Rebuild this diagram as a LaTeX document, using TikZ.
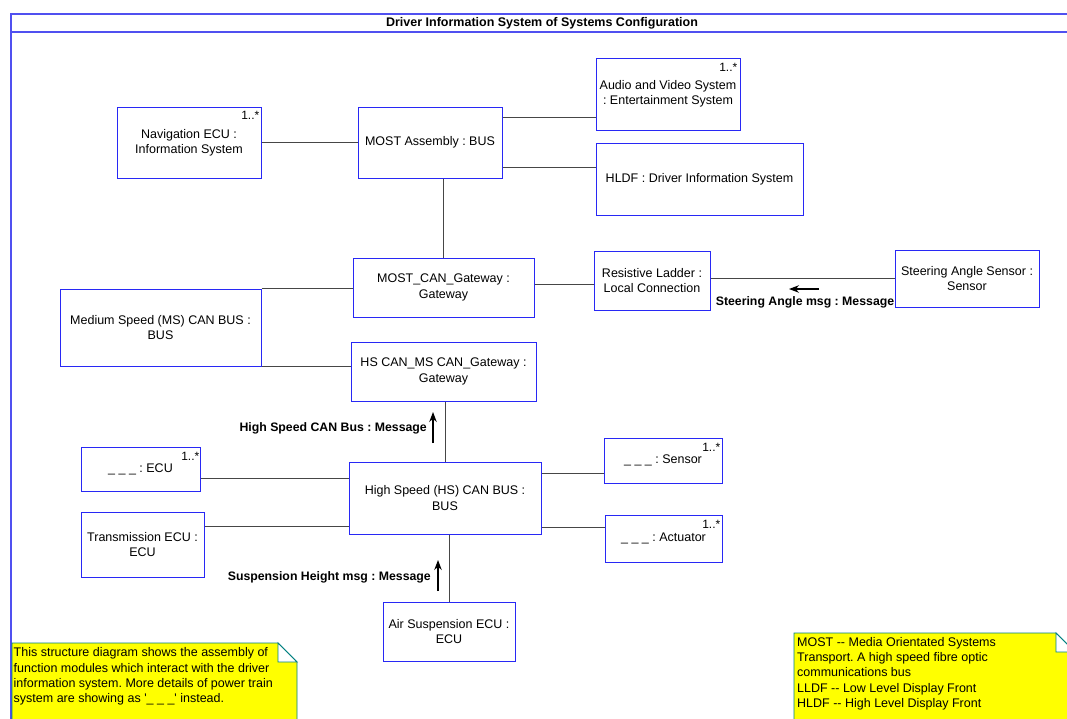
\documentclass[tikz,border=0pt]{standalone}
\usepackage{fontspec}
\setmainfont{Liberation Sans}
\usetikzlibrary{arrows.meta}
\definecolor{boxblue}{RGB}{40,40,245}
\definecolor{framebl}{RGB}{80,80,240}
\definecolor{wirecol}{RGB}{70,70,70}
\definecolor{notefill}{RGB}{255,255,0}
\definecolor{noteedge}{RGB}{0,128,128}
\frenchspacing

\begin{document}
\begin{tikzpicture}[x=1pt,y=-1pt,
  every node/.style={font=\fontsize{12.5}{15.3}\selectfont, inner sep=0pt},
  part/.style={draw=boxblue, line width=1pt, fill=white, align=center},
  wire/.style={draw=wirecol, line width=0.9pt},
  mult/.style={anchor=north east, font=\fontsize{12}{13}\selectfont},
  msg/.style={font=\fontsize{12.3}{15}\selectfont\bfseries},
  msgarrow/.style={-{Stealth[length=10pt,width=7.5pt]}, line width=1.2pt, black},
  notebody/.style={draw=noteedge, fill=notefill, line width=0.9pt},
  notefold/.style={draw=noteedge, fill=white, line width=0.9pt},
  notetext/.style={anchor=north west, align=left},
]
\useasboundingbox (0,0) rectangle (1067,718);
\clip (0,0) rectangle (1067,718);
\fill[white] (0,0) rectangle (1067,718);

% diagram frame with its title bar
\draw[framebl, line width=1.4pt] (1080,14) -- (11,14) -- (11,730);
\draw[framebl, line width=1.4pt] (11,32) -- (1080,32);
\node[font=\fontsize{12.5}{15}\selectfont\bfseries] (title) at (542,23)
  {Driver Information System of Systems Configuration};

% parts
\node[part, minimum width=144pt, minimum height=71pt] (nav) at (189,142.5) {Navigation ECU :\\Information System};
\node[part, minimum width=144pt, minimum height=71pt] (most) at (430,142.5) {MOST Assembly : BUS};
\node[part, minimum width=144pt, minimum height=72pt] (audio) at (668,94) {Audio and Video System\\: Entertainment System};
\node[part, minimum width=207pt, minimum height=72pt] (hldf) at (699.5,179) {HLDF : Driver Information System};
\node[part, minimum width=181pt, minimum height=59pt] (mcg) at (443.5,287.5) {MOST\_CAN\_Gateway :\\Gateway};
\node[part, minimum width=201pt, minimum height=77pt] (ms) at (160.5,327.5) {Medium Speed (MS) CAN BUS :\\BUS};
\node[part, minimum width=185pt, minimum height=59pt] (hsg) at (443.5,371.5) {HS CAN\_MS CAN\_Gateway :\\Gateway};
\node[part, minimum width=116pt, minimum height=59pt] (res) at (652,280.5) {Resistive Ladder :\\Local Connection};
\node[part, minimum width=144pt, minimum height=57pt] (steer) at (967,278.5) {Steering Angle Sensor :\\Sensor};
\node[part, minimum width=119pt, minimum height=44pt] (ecu) at (140.5,469) {\_\ \_\ \_ : ECU};
\node[part, minimum width=123pt, minimum height=65pt] (trans) at (142.5,544.5) {Transmission ECU :\\ECU};
\node[part, minimum width=192pt, minimum height=72pt] (hsbus) at (445,498) {High Speed (HS) CAN BUS :\\BUS};
\node[part, minimum width=118pt, minimum height=45pt] (sensor) at (663,460.5) {\_\ \_\ \_ : Sensor};
\node[part, minimum width=117pt, minimum height=47pt] (act) at (663.5,538.5) {\_\ \_\ \_ : Actuator};
\node[part, minimum width=132pt, minimum height=59pt] (air) at (449,631.5) {Air Suspension ECU :\\ECU};

% multiplicities
\node[mult] (navm) at ([xshift=-2pt,yshift=-5pt]nav.north east) {1..*};
\node[mult] (audiom) at ([xshift=-3pt,yshift=-6pt]audio.north east) {1..*};
\node[mult] (ecum) at ([xshift=-1pt,yshift=-5.5pt]ecu.north east) {1..*};
\node[mult] (sensorm) at ([xshift=-2pt,yshift=-5.5pt]sensor.north east) {1..*};
\node[mult] (actm) at ([xshift=-2pt,yshift=-5.5pt]act.north east) {1..*};

% connectors
\draw[wire] (nav.east |- 0,142) -- (most.west |- 0,142);
\draw[wire] (most.east |- 0,117) -- (audio.west |- 0,117);
\draw[wire] (most.east |- 0,167) -- (hldf.west |- 0,167);
\draw[wire] (most.south -| 443,0) -- (mcg.north -| 443,0);
\draw[wire] (ms.north east) -- (mcg.west |- ms.north);
\draw[wire] (ms.south east) -- (hsg.west |- ms.south);
\draw[wire] (mcg.east |- 0,284) -- (res.west |- 0,284);
\draw[wire] (res.east |- 0,278) -- (steer.west |- 0,278);
\draw[wire] (hsg.south -| 445,0) -- (hsbus.north -| 445,0);
\draw[wire] (hsbus.west |- 0,478) -- (ecu.east |- 0,478);
\draw[wire] (hsbus.west |- 0,526) -- (trans.east |- 0,526);
\draw[wire] (hsbus.east |- 0,473) -- (sensor.west |- 0,473);
\draw[wire] (hsbus.east |- 0,527) -- (act.west |- 0,527);
\draw[wire] (hsbus.south -| 449,0) -- (air.north -| 449,0);

% messages
\coordinate (sa1) at (819,289);
\coordinate (sa2) at (789,289);
\draw[msgarrow] (sa1) -- (sa2);
\node[msg] (salabel) at (805,302) {Steering Angle msg : Message};

\coordinate (hc1) at (433,443);
\coordinate (hc2) at (433,412);
\draw[msgarrow] (hc1) -- (hc2);
\node[msg, anchor=east] (hclabel) at (427,428) {High Speed CAN Bus : Message};

\coordinate (sh1) at (438,591);
\coordinate (sh2) at (438,560);
\draw[msgarrow] (sh1) -- (sh2);
\node[msg, anchor=east] (shlabel) at (431,577) {Suspension Height msg : Message};

% notes
\draw[notebody] (12,643) -- (278,643) -- (297,662) -- (297,730) -- (12,730) -- cycle;
\draw[notefold] (278,643) -- (278,662) -- (297,662) -- cycle;
\node[notetext] (note1) at (13.5,647.5)
  {This structure diagram shows the assembly of\\
   function modules which interact with the driver\\
   information system. More details of power train\\
   system are showing as \textquotesingle\_ \_ \_\textquotesingle\ instead.};

\draw[notebody] (794,633) -- (1056,633) -- (1075,652) -- (1075,730) -- (794,730) -- cycle;
\draw[notefold] (1056,633) -- (1056,652) -- (1075,652) -- cycle;
\node[notetext] (note2) at (797,637)
  {MOST -{}- Media Orientated Systems\\
   Transport. A high speed fibre optic\\
   communications bus\\
   LLDF -{}- Low Level Display Front\\
   HLDF -{}- High Level Display Front};
\end{tikzpicture}
\end{document}
